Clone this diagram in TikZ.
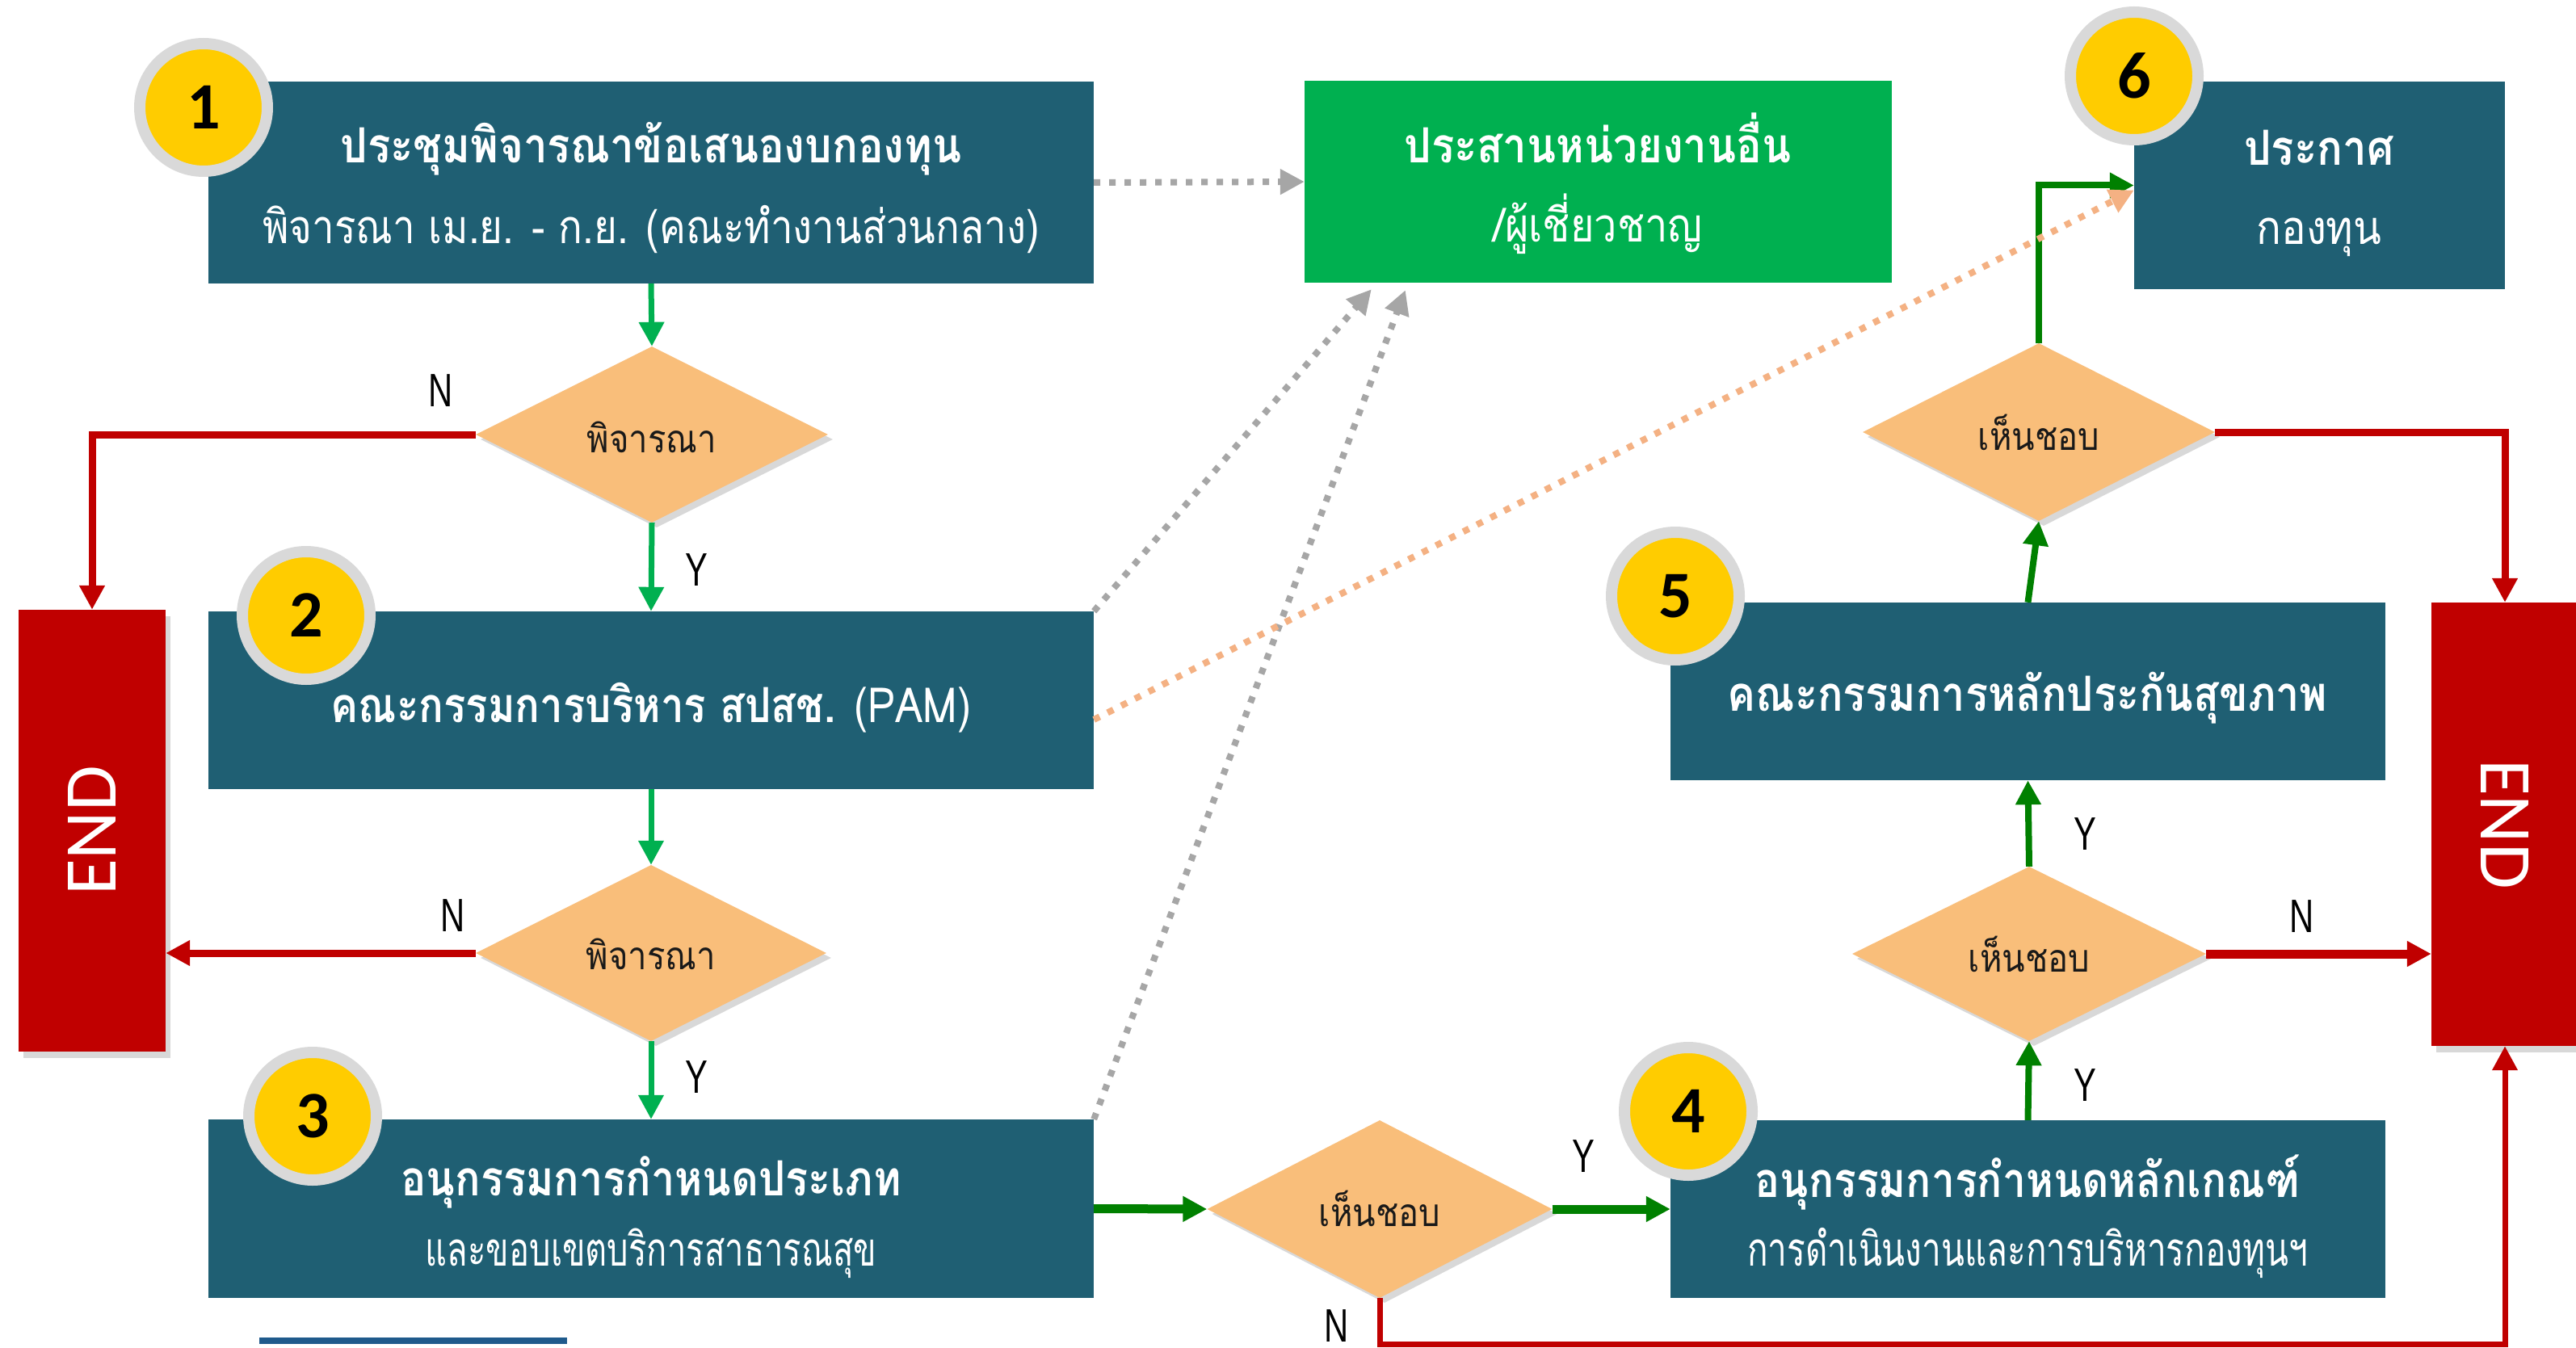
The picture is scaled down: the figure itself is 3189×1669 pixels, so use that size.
\documentclass[tikz,border=0pt]{standalone}
\usepackage{fontspec}
\usetikzlibrary{arrows.meta,shapes.geometric,shadows,calc}
\newfontfamily\thai[Script=Thai]{Loma}
\newfontfamily\latn{Carlito}
\newfontfamily\ynfont[FakeStretch=0.72]{Liberation Sans}
\definecolor{boxteal}{HTML}{1F5F73}
\definecolor{boxgreen}{HTML}{00B050}
\definecolor{darkgr}{HTML}{008000}
\definecolor{endred}{HTML}{C00000}
\definecolor{diaor}{HTML}{F9BE7A}
\definecolor{dotgray}{HTML}{A6A6A6}
\definecolor{dotor}{HTML}{F4B183}
\definecolor{ringgray}{HTML}{D9D9D9}
\definecolor{numyel}{HTML}{FFCC00}
\definecolor{ulblue}{HTML}{1F5A8C}
\newcommand{\hs}[2]{\scalebox{#1}[1]{#2}}
\begin{document}
\begin{tikzpicture}[x=1pt,y=-1pt,
  box/.style={rectangle, fill=boxteal, inner sep=0pt},
  endbox/.style={rectangle, fill=endred, inner sep=0pt,
    drop shadow={shadow xshift=6pt, shadow yshift=-8pt, opacity=0.3}},
  endtxt/.style={text=white, font=\latn\fontsize{92}{100}\selectfont, inner sep=0pt},
  dia/.style={diamond, aspect=2, fill=diaor, inner sep=0pt,
    drop shadow={shadow xshift=6pt, shadow yshift=-6pt, opacity=0.3}},
  diatxt/.style={anchor=base, inner sep=0pt, text=black!90, font=\thai\fontsize{48}{54}\selectfont},
  ttl/.style={anchor=base, inner sep=0pt, text=white, font=\thai\bfseries\fontsize{60}{66}\selectfont},
  sub/.style={anchor=base, inner sep=0pt, text=white, font=\thai\fontsize{58}{64}\selectfont},
  num/.style={circle, fill=numyel, draw=ringgray, line width=14pt, minimum size=158pt,
    inner sep=0pt, text=black, font=\latn\bfseries\fontsize{82}{90}\selectfont},
  yn/.style={anchor=base, inner sep=0pt, text=black, font=\ynfont\fontsize{58}{62}\selectfont},
  tip/.style={-{Triangle[length=30pt,width=30pt]}},
  garr/.style={draw=boxgreen, line width=7pt, tip},
  dgarr/.style={draw=darkgr, line width=8pt, tip},
  rarr/.style={draw=endred, line width=9pt, tip},
  dotarr/.style={draw=dotgray, line width=8pt, dash pattern=on 8pt off 11pt, tip},
]
\useasboundingbox (0,0) rectangle (3189,1669);
\fill[white] (0,0) rectangle (3189,1669);

% boxes
\node[box, minimum width=1096pt, minimum height=250pt] (b1) at (806,226) {};
\node[box, fill=boxgreen, minimum width=727pt, minimum height=250pt] (g) at (1978.5,225) {};
\node[box, minimum width=459pt, minimum height=257pt] (b6) at (2871.5,229.5) {};
\node[box, minimum width=1096pt, minimum height=220pt] (b2) at (806,867) {};
\node[box, minimum width=1096pt, minimum height=221pt] (b3) at (806,1496.5) {};
\node[box, minimum width=885pt, minimum height=220pt] (b4) at (2510.5,1497) {};
\node[box, minimum width=885pt, minimum height=220pt] (b5) at (2510.5,856) {};
\node[endbox, minimum width=182pt, minimum height=547pt] (endL) at (114,1028.5) {};
\node[endbox, minimum width=182pt, minimum height=549pt] (endR) at (3101,1020.5) {};

% diamonds
\node[dia, minimum width=436pt, minimum height=218pt] (d1) at (807,538) {};
\node[dia, minimum width=434pt, minimum height=218pt] (d2) at (806,1180) {};
\node[dia, minimum width=427pt, minimum height=220pt] (d3) at (1708,1497) {};
\node[dia, minimum width=438pt, minimum height=216pt] (d4) at (2512,1181) {};
\node[dia, minimum width=436pt, minimum height=220pt] (d5) at (2524,535) {};

% texts
\node[ttl] (t1a) at (806,202) {\hs{0.88}{ประชุมพิจารณาข้อเสนองบกองทุน}};
\node[sub] (t1b) at (806,302) {\hs{0.85}{พิจารณา เม.ย. - ก.ย. (คณะทำงานส่วนกลาง)}};
\node[ttl] (tga) at (1978,202) {\hs{0.88}{ประสานหน่วยงานอื่น}};
\node[sub] (tgb) at (1978,300) {\hs{0.87}{/ผู้เชี่ยวชาญ}};
\node[ttl] (t6a) at (2871,205) {\hs{0.88}{ประกาศ}};
\node[sub] (t6b) at (2871,303) {\hs{0.88}{กองทุน}};
\node[sub] (t2) at (806,894) {\hs{0.85}{\bfseries\fontsize{60}{66}\selectfont คณะกรรมการบริหาร สปสช.\mdseries{} (PAM)}};
\node[ttl] (t3a) at (806,1480) {\hs{0.87}{อนุกรรมการกำหนดประเภท}};
\node[sub] (t3b) at (806,1567) {\hs{0.72}{และขอบเขตบริการสาธารณสุข}};
\node[ttl] (t4a) at (2510,1482) {\hs{0.86}{อนุกรรมการกำหนดหลักเกณฑ์}};
\node[sub] (t4b) at (2510,1567) {\hs{0.73}{การดำเนินงานและการบริหารกองทุนฯ}};
\node[ttl] (t5) at (2510,880) {\hs{0.87}{คณะกรรมการหลักประกันสุขภาพ}};
\node[endtxt, rotate=90] (tendL) at (endL) {END};
\node[endtxt, rotate=-90] (tendR) at (endR) {END};

\node[diatxt] (td1) at (807,560) {\hs{0.87}{พิจารณา}};
\node[diatxt] (td2) at (806,1200) {\hs{0.87}{พิจารณา}};
\node[diatxt] (td3) at (1708,1518) {\hs{0.87}{เห็นชอบ}};
\node[diatxt] (td4) at (2512,1203) {\hs{0.87}{เห็นชอบ}};
\node[diatxt] (td5) at (2524,557) {\hs{0.87}{เห็นชอบ}};

% numbered circles
\node[num] (c1) at (252,133) {1};
\node[num] (c2) at (379,762) {2};
\node[num] (c3) at (387,1382) {3};
\node[num] (c4) at (2090,1376) {4};
\node[num] (c5) at (2074,738) {5};
\node[num] (c6) at (2642,94) {6};

% Y / N labels
\node[yn] (n1) at (546,503) {N};
\node[yn] (y1) at (862,725) {Y};
\node[yn] (n2) at (561,1153) {N};
\node[yn] (y2) at (862,1353) {Y};
\node[yn] (y3) at (1960,1451) {Y};
\node[yn] (n3) at (1655,1661) {N};
\node[yn] (y4) at (2581,1052) {Y};
\node[yn] (y5) at (2581,1363) {Y};
\node[yn] (n4) at (2850,1154) {N};

% connectors
\draw[garr] (b1.south) -- (d1.north);
\draw[rarr] (d1.west) -| (endL.north);
\draw[garr] (d1.south) -- (b2.north);
\draw[garr] (b2.south) -- (d2.north);
\draw[rarr] (d2.west) -- (endL.east |- d2.west);
\draw[garr] (d2.south) -- (b3.north);
\draw[dgarr, line width=11pt] (b3.east) -- (d3.west);
\draw[dgarr, line width=11pt] (d3.east) -- (b4.west);
\coordinate (rc) at (3101,1664);
\draw[rarr, line width=7pt] (d3.south) |- (rc) -- (endR.south);
\draw[dgarr] (b4.north) -- (d4.south);
\draw[dgarr] (d4.north) -- (b5.south);
\draw[rarr, line width=11pt] (d4.east) -- (endR.west |- d4.east);
\draw[dgarr] (b5.north) -- (d5.south);
\draw[rarr] (d5.east) -| (endR.north);
\draw[dgarr] (d5.north) |- (b6.west);
\draw[dotarr] (b1.east) -- (g.west);
\draw[dotarr] (b2.north east) -- ($(g.south west)+(83,8)$);
\draw[dotarr] (b3.north east) -- ($(g.south west)+(125,9)$);
\draw[dotarr, draw=dotor] ($(b2.east)+(0,24)$) -- ($(b6.west)+(0,6)$);

% decorative underline
\draw[ulblue, line width=8pt] (321,1660) -- (702,1660);
\end{tikzpicture}
\end{document}
